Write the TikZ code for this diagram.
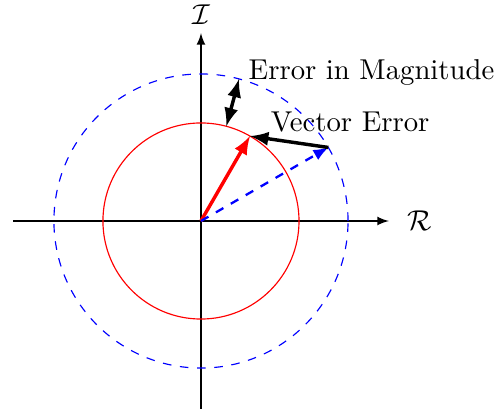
\documentclass[tikz,border=0pt]{standalone}
\usepackage{amsmath,amssymb}
\usepackage{xcolor}
\usepackage{tikz}
\usetikzlibrary{positioning}
\usetikzlibrary{calc}

\begin{document}
\begin{tikzpicture}[>=latex]
    \useasboundingbox (-2.46,-2.387) rectangle (3.66,2.705);
    % Axes
    \coordinate (o) at (0,0);
    \coordinate (xl) at (-2.3,0);
    \coordinate (xr) at (2.3,0);
    \coordinate (yb) at (0,-2.3);
    \coordinate (yt) at (0,2.3);
    \draw[->, thin] (xl) -- (xr);
    \draw[->, thin] (yb) -- (yt);
    \node (re) [right=0.1cm of xr] {$\mathcal{R}$};
    \node (im) [above=-0.02cm of yt] {$\mathcal{I}$};

    % Cercles
    \draw[red] (o) circle (1.2);
    \draw[blue, dashed] (o) circle (1.8);

    % Vecteurs
    \coordinate (redtip) at (60:1.2);
    \coordinate (bluetip) at (30:1.8);
    \coordinate (magin) at (75:1.2);
    \coordinate (magout) at (75:1.8);
    \draw[->, red, very thick] (o) -- (redtip);
    \draw[->, blue, thick, dashed] (o) -- (bluetip);
    \draw[->, very thick] (bluetip) -- (redtip);
    \draw[<->, very thick] (magin) -- (magout);

    % Etiquettes
    \node (magerr) [anchor=west] at (0.46,1.82) {Error in Magnitude};
    \node (vecerr) [anchor=west] at (0.73,1.21) {Vector Error};
\end{tikzpicture}
\end{document}
